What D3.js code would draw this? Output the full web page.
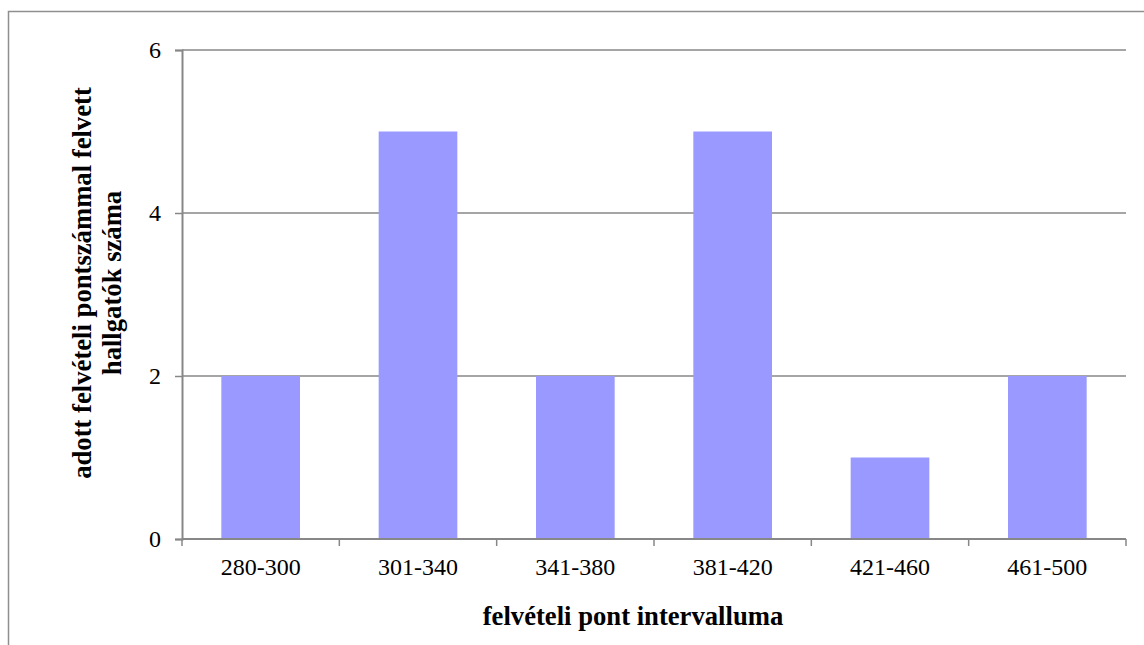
<!DOCTYPE html>
<html>
<head>
<meta charset="utf-8">
<script src="https://cdn.jsdelivr.net/npm/d3@7"></script>
<style>
  html, body { margin: 0; padding: 0; background: #ffffff; }
  svg { display: block; }
  svg text { font-family: "Liberation Serif", "Times New Roman", serif !important; }
</style>
</head>
<body>
<svg id="chart" width="1144" height="645"></svg>
<script>
// Intervals of admission points and number of admitted students in each
const categories = ["280-300", "301-340", "341-380", "381-420", "421-460", "461-500"];
const counts = [2, 5, 2, 5, 1, 2];
const yTicks = [0, 2, 4, 6];
const xTitle = "felvételi pont intervalluma";
const yTitleLines = ["adott felvételi pontszámmal felvett", "hallgatók száma"];

const svg = d3.select("#chart");
const plot = { left: 182, right: 1126, top: 50, bottom: 539 };
const axisColor = "#878787";

// Outer chart frame (runs past the right and bottom edges of the page)
svg.append("rect")
  .attr("x", 8.5).attr("y", 11.5)
  .attr("width", 1160).attr("height", 660)
  .attr("fill", "none")
  .attr("stroke", "#8f8f8f")
  .attr("stroke-width", 1.5);

const x = d3.scaleBand()
  .domain(categories)
  .range([plot.left, plot.right])
  .paddingInner(0.5)
  .paddingOuter(0.25);

const y = d3.scaleLinear()
  .domain([0, 6])
  .range([plot.bottom, plot.top]);

// Horizontal gridlines
svg.append("g")
  .selectAll("line")
  .data(yTicks.filter(d => d > 0))
  .join("line")
  .attr("x1", plot.left).attr("x2", plot.right)
  .attr("y1", d => y(d)).attr("y2", d => y(d))
  .attr("stroke", axisColor)
  .attr("stroke-width", 1.5);

// Bars
svg.append("g")
  .selectAll("rect")
  .data(counts)
  .join("rect")
  .attr("x", (d, i) => x(categories[i]))
  .attr("y", d => y(d))
  .attr("width", x.bandwidth())
  .attr("height", d => y(0) - y(d))
  .attr("fill", "#9999ff");

// Y axis
const yAxis = svg.append("g")
  .attr("transform", `translate(${plot.left},0)`)
  .attr("font-family", null)
  .call(d3.axisLeft(y).tickValues(yTicks).tickFormat(d3.format("d")).tickSize(7).tickPadding(14));
yAxis.attr("font-family", null).attr("font-size", 24);
yAxis.select(".domain").attr("stroke", axisColor).attr("stroke-width", 2);
yAxis.selectAll(".tick line").attr("stroke", axisColor).attr("stroke-width", 1.5);
yAxis.selectAll(".tick text")
  .attr("font-size", 24)
  .attr("fill", "#000");

// X axis line with ticks at category boundaries
const boundaries = d3.range(categories.length + 1).map(i => plot.left + i * x.step());
svg.append("line")
  .attr("x1", plot.left).attr("x2", plot.right)
  .attr("y1", y(0)).attr("y2", y(0))
  .attr("stroke", axisColor).attr("stroke-width", 2);
svg.append("g")
  .selectAll("line")
  .data(boundaries)
  .join("line")
  .attr("x1", d => d).attr("x2", d => d)
  .attr("y1", y(0)).attr("y2", y(0) + 7)
  .attr("stroke", axisColor).attr("stroke-width", 1.5);

// Category labels
svg.append("g")
  .selectAll("text")
  .data(categories)
  .join("text")
  .attr("x", d => x(d) + x.bandwidth() / 2)
  .attr("y", 575)
  .attr("text-anchor", "middle")
  .attr("font-size", 24)
  .attr("fill", "#000")
  .text(d => d);

// Axis titles
svg.append("text")
  .attr("x", 633)
  .attr("y", 625)
  .attr("text-anchor", "middle")
  .attr("font-size", 26.67)
  .attr("font-weight", "bold")
  .attr("fill", "#000")
  .text(xTitle);

const yTitle = svg.append("text")
  .attr("transform", "translate(91,283) rotate(-90)")
  .attr("text-anchor", "middle")
  .attr("font-size", 26.67)
  .attr("font-weight", "bold")
  .attr("fill", "#000");
yTitle.selectAll("tspan")
  .data(yTitleLines)
  .join("tspan")
  .attr("x", 0)
  .attr("y", (d, i) => i * 30)
  .text(d => d);
</script>
</body>
</html>
